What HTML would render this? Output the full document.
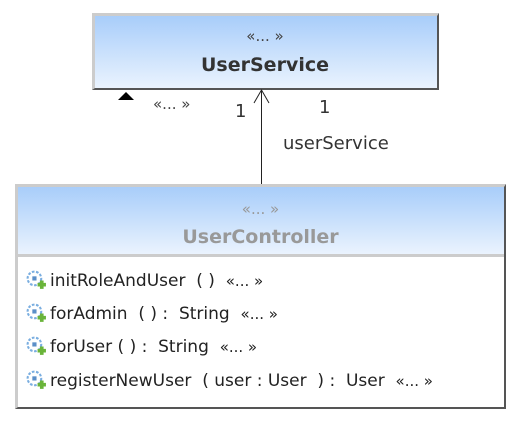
<!DOCTYPE html>
<html><head><meta charset="utf-8"><style>
body{margin:0;width:521px;height:422px;background:#fff;position:relative;overflow:hidden;font-family:"DejaVu Sans","Liberation Sans",sans-serif;color:#333}
.a{position:absolute;white-space:nowrap}
.box{position:absolute;box-sizing:border-box}
.row{position:absolute;left:25px;font-size:17px;color:#222;height:24px;line-height:24px}
.ic{display:inline-block;vertical-align:middle;width:22px;height:22px;margin-right:3px;position:relative;top:-1px}
</style></head><body>
<div class="box" style="left:92px;top:13px;width:347px;height:77px;border:3px solid #ccc;border-right-color:#555;border-bottom-color:#555;border-right-width:2px;border-bottom-width:2px;background:linear-gradient(#a8cdfa,#eaf3fe)"></div>
<div class="a" style="left:92px;top:27px;width:346px;text-align:center;font-size:15px;color:#444">«... »</div>
<div class="a" style="left:92px;top:54px;width:346px;text-align:center;font-size:19px;font-weight:bold;color:#333">UserService</div>
<svg class="a" style="left:0;top:0" width="521" height="422">
<line x1="261.5" y1="90" x2="261.5" y2="185" stroke="#222" stroke-width="1"/>
<polyline points="254,103 261.5,90 269,103" fill="none" stroke="#222" stroke-width="1"/>
<polygon points="118,100 126,92 134,100" fill="#000"/>
</svg>
<div class="a" style="left:153px;top:95px;font-size:15px;color:#444">«... »</div>
<div class="a" style="left:235px;top:101px;font-size:18px;color:#333">1</div>
<div class="a" style="left:319px;top:97px;font-size:18px;color:#333">1</div>
<div class="a" style="left:283px;top:133px;font-size:18px;color:#333">userService</div>
<div class="box" style="left:15px;top:184px;width:491px;height:225px;border:3px solid #ccc;border-right-color:#555;border-bottom-color:#555;border-right-width:2px;border-bottom-width:2px;background:#fff"></div>
<div class="box" style="left:18px;top:187px;width:486px;height:70px;background:linear-gradient(#a8cdfa,#eaf3fe);border-bottom:3px solid #ccc"></div>
<div class="a" style="left:15px;top:200px;width:491px;text-align:center;font-size:15px;color:#999">«... »</div>
<div class="a" style="left:15px;top:226px;width:491px;text-align:center;font-size:19px;font-weight:bold;color:#999">UserController</div>
<svg width="0" height="0" style="position:absolute"><defs><g id="g"><circle cx="9" cy="9" r="6.5" fill="none" stroke="#7aaee0" stroke-width="2" stroke-dasharray="2.5 1.5"/><rect x="7" y="7" width="4" height="4" fill="#5b8fc8"/><path d="M12 15h8M16 11v8" stroke="#6ab43a" stroke-width="3.5"/></g></defs></svg>
<div class="row" style="top:269px"><svg class="ic" viewBox="0 0 21 21"><use href="#g"/></svg>initRoleAndUser &nbsp;( ) &nbsp;<span style="font-size:15px">«... »</span></div>
<div class="row" style="top:302px"><svg class="ic" viewBox="0 0 21 21"><use href="#g"/></svg>forAdmin &nbsp;( ) : &nbsp;String &nbsp;<span style="font-size:15px">«... »</span></div>
<div class="row" style="top:335px"><svg class="ic" viewBox="0 0 21 21"><use href="#g"/></svg>forUser ( ) : &nbsp;String &nbsp;<span style="font-size:15px">«... »</span></div>
<div class="row" style="top:369px"><svg class="ic" viewBox="0 0 21 21"><use href="#g"/></svg>registerNewUser &nbsp;( user : User &nbsp;) : &nbsp;User &nbsp;<span style="font-size:15px">«... »</span></div>
</body></html>
